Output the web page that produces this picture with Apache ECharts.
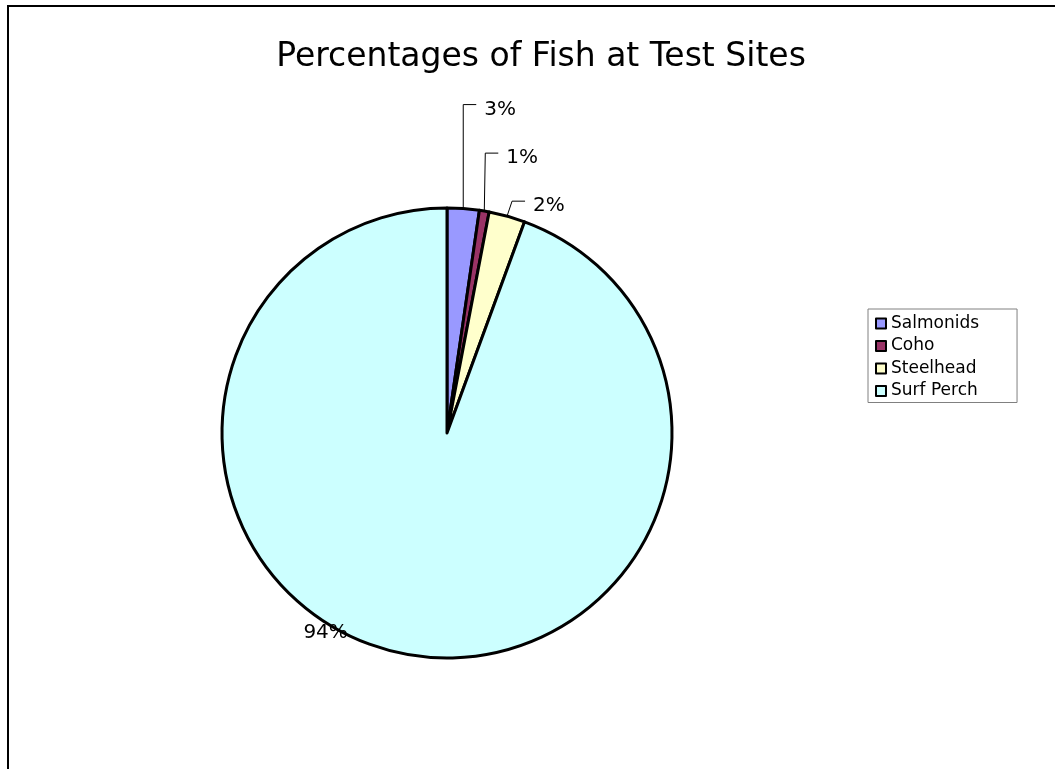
<!DOCTYPE html>
<html>
<head>
<meta charset="utf-8">
<title>Percentages of Fish at Test Sites</title>
<script src="https://cdn.jsdelivr.net/npm/echarts@6/dist/echarts.min.js"></script>
<style>
  html, body { margin: 0; padding: 0; background: #fff; }
  #chart { width: 1055px; height: 769px; }
</style>
</head>
<body>
<div id="chart"></div>
<script>
// data
const categories = ['Salmonids', 'Coho', 'Steelhead', 'Surf Perch'];
const values = [2.3, 0.7, 2.6, 94.4];
const pctLabels = ['3%', '1%', '2%', '94%'];
const colors = ['#9999FF', '#993366', '#FFFFCC', '#CCFFFF'];

// leader line shape per small slice: rise above the rim, sideways lean
const rise = [104, 58, 15];
const lean = [0, 1, 5];

const chart = echarts.init(document.getElementById('chart'));

const option = {
  backgroundColor: '#fff',
  animation: false,
  title: {
    text: 'Percentages of Fish at Test Sites',
    left: 536,
    top: 36,
    textAlign: 'center',
    textStyle: {
      fontFamily: 'DejaVu Sans',
      fontWeight: 'normal',
      fontSize: 33,
      color: '#000'
    }
  },
  legend: {
    orient: 'vertical',
    left: 868,
    top: 309,
    itemWidth: 10,
    itemHeight: 10,
    itemGap: 5.5,
    padding: [6, 38, 3, 7],
    borderColor: '#808080',
    borderWidth: 1,
    icon: 'rect',
    itemStyle: { borderColor: '#000', borderWidth: 2 },
    textStyle: { fontFamily: 'DejaVu Sans', fontSize: 17, color: '#000' },
    data: categories
  },
  graphic: [{
    type: 'rect',
    shape: { x: 8, y: 6, width: 1200, height: 900 },
    style: { fill: 'none', stroke: '#000', lineWidth: 2 },
    silent: true,
    z: -1
  }],
  series: [{
    type: 'pie',
    center: [447, 433],
    radius: 225,
    startAngle: 90,
    clockwise: true,
    avoidLabelOverlap: false,
    itemStyle: { borderColor: '#000', borderWidth: 3 },
    emphasis: { disabled: true },
    label: {
      show: true,
      position: 'outside',
      color: '#000',
      fontFamily: 'DejaVu Sans',
      fontSize: 20,
      formatter: p => pctLabels[p.dataIndex]
    },
    labelLine: {
      show: true,
      length: 10,
      length2: 10,
      lineStyle: { color: '#000', width: 1 }
    },
    labelLayout: function (p) {
      const pts = p.labelLinePoints;
      if (!pts) return {};
      const s = pts[0];
      const i = p.dataIndex;
      if (i < rise.length) {
        const top = s[1] - rise[i];
        const bx = s[0] + lean[i];
        return {
          x: bx + 21,
          y: top + 5,
          align: 'left',
          verticalAlign: 'middle',
          labelLinePoints: [s, [bx, top], [bx + 13, top]]
        };
      }
      return {
        x: s[0] - 82,
        y: s[1] - 22,
        align: 'center',
        verticalAlign: 'middle',
        labelLinePoints: [s, s, s]
      };
    },
    data: categories.map((c, i) => ({
      name: c,
      value: values[i],
      itemStyle: { color: colors[i] }
    }))
  }]
};

chart.setOption(option);
</script>
</body>
</html>
